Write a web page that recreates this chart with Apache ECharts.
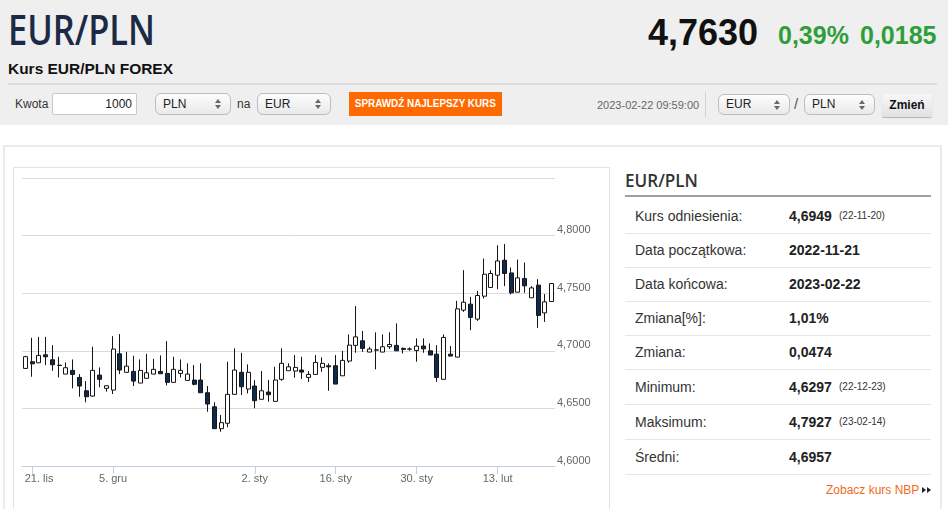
<!DOCTYPE html>
<html>
<head>
<meta charset="utf-8">
<script src="https://cdn.jsdelivr.net/npm/echarts@6/dist/echarts.min.js"></script>
<style>
  html,body{margin:0;padding:0;}
  body{width:948px;height:509px;overflow:hidden;position:relative;background:#fff;font-family:"Liberation Sans",Arial,sans-serif;color:#333;}
  .a{position:absolute;white-space:nowrap;}
  .band{left:0;top:0;width:948px;height:125px;background:#efefef;}
  .title{font-family:"Open Sans",sans-serif;font-weight:600;font-size:42px;line-height:42px;color:#1c2b45;transform-origin:left center;}
  .sub{font-weight:bold;font-size:15px;line-height:15px;color:#111;transform-origin:left center;}
  .big{font-weight:bold;font-size:36px;line-height:36px;color:#111;}
  .grn{font-weight:bold;font-size:25px;line-height:25px;color:#2e9e3a;}
  .lbl{font-size:12px;line-height:12px;color:#333;}
  .inp{background:#fff;border:1px solid #c9c9c9;border-radius:2px;box-sizing:border-box;font-size:12px;color:#222;text-align:right;padding-right:4px;}
  .sel{box-sizing:border-box;border:1px solid #bdbdbd;border-radius:6px;background:linear-gradient(#fdfdfd,#e9e9e9);font-size:12px;color:#222;padding-left:7px;}
  .sel .ar{position:absolute;right:9px;top:50%;width:6px;height:10px;margin-top:-5px;}
  .sel .ar:before{content:"";position:absolute;left:0;top:0;border-left:3px solid transparent;border-right:3px solid transparent;border-bottom:4px solid #666;}
  .sel .ar:after{content:"";position:absolute;left:0;bottom:0;border-left:3px solid transparent;border-right:3px solid transparent;border-top:4px solid #666;}
  .btn{background:#ff6a00;color:#fff;font-weight:bold;font-size:10px;text-align:center;}
  .zm{box-sizing:border-box;background:linear-gradient(#f7f7f7,#e1e1e1);border-radius:2px;box-shadow:0 1px 1px rgba(0,0,0,0.25);font-weight:bold;font-size:12px;color:#111;text-align:center;}
  .row{left:625px;width:306px;height:34px;line-height:34px;font-size:14px;color:#333;}
  .row .k{position:absolute;left:10px;}
  .row .v{position:absolute;left:164px;font-weight:bold;color:#222;}
  .row .d{position:absolute;left:214px;font-size:10px;color:#333;}
  .sep{left:625px;width:306px;height:1px;background:#e6e6e6;}
</style>
</head>
<body>
<div class="a band"></div>
<div class="a title" id="ttl" style="left:8px;top:8px;">EUR/PLN</div>
<div class="a sub" id="sub" style="left:8px;top:61px;">Kurs EUR/PLN FOREX</div>
<div class="a big" style="left:648px;top:15px;">4,7630</div>
<div class="a grn" style="left:778px;top:23px;">0,39%</div>
<div class="a grn" style="left:860px;top:23px;">0,0185</div>
<div class="a" style="left:8px;top:83px;width:929px;height:2px;background:#dcdcdc;"></div>

<div class="a lbl" style="left:15px;top:98px;">Kwota</div>
<div class="a inp" style="left:52px;top:93px;width:85px;height:22px;line-height:20px;">1000</div>
<div class="a sel" style="left:155px;top:93px;width:76px;height:22px;line-height:20px;">PLN<span class="ar"></span></div>
<div class="a lbl" style="left:237px;top:98px;">na</div>
<div class="a sel" style="left:257px;top:93px;width:74px;height:22px;line-height:20px;">EUR<span class="ar"></span></div>
<div class="a btn" style="left:349px;top:92px;width:153px;height:24px;line-height:24px;"><span id="btxt" style="display:inline-block;">SPRAWDŹ NAJLEPSZY KURS</span></div>

<div class="a" style="left:597px;top:100px;font-size:11px;line-height:11px;color:#666;">2023-02-22 09:59:00</div>
<div class="a" style="left:705px;top:92px;width:1px;height:25px;background:#d2d2d2;"></div>
<div class="a sel" style="left:718px;top:94px;width:72px;height:21px;line-height:19px;">EUR<span class="ar"></span></div>
<div class="a" style="left:794px;top:96px;font-size:15px;line-height:15px;color:#555;">/</div>
<div class="a sel" style="left:804px;top:94px;width:71px;height:21px;line-height:19px;">PLN<span class="ar"></span></div>
<div class="a zm" style="left:882px;top:94px;width:50px;height:23px;line-height:23px;">Zmień</div>

<div class="a" style="left:3px;top:145px;width:939px;height:400px;border:2px solid #ebebeb;box-sizing:border-box;"></div>
<div class="a" style="left:13px;top:167px;width:597px;height:360px;border:1px solid #e3e3e3;box-sizing:border-box;"></div>
<div class="a" id="chart" style="left:14px;top:168px;width:595px;height:341px;"></div>

<div class="a" id="th" style="left:625px;top:169px;font-family:'Open Sans',sans-serif;font-weight:600;font-size:18px;line-height:22px;color:#333;transform-origin:left center;">EUR/PLN</div>
<div class="a" style="left:625px;top:195px;width:306px;height:2px;background:#a0a0a0;"></div>
<div id="tbl"></div>
<div class="a" style="left:826px;top:484px;font-size:12px;line-height:12px;color:#f26a1b;">Zobacz kurs NBP</div>
<div class="a" style="left:922px;top:487px;width:0;height:0;border-top:3px solid transparent;border-bottom:3px solid transparent;border-left:4px solid #222;"></div>
<div class="a" style="left:927px;top:487px;width:0;height:0;border-top:3px solid transparent;border-bottom:3px solid transparent;border-left:4px solid #222;"></div>

<script>
// ---- chart data ----
const dates = [
 '2022-11-20','2022-11-21','2022-11-22','2022-11-23','2022-11-24','2022-11-25','2022-11-27','2022-11-28','2022-11-29','2022-11-30',
 '2022-12-01','2022-12-02','2022-12-04','2022-12-05','2022-12-06','2022-12-07','2022-12-08','2022-12-09','2022-12-11','2022-12-12',
 '2022-12-13','2022-12-14','2022-12-15','2022-12-16','2022-12-18','2022-12-19','2022-12-20','2022-12-21','2022-12-22','2022-12-23',
 '2022-12-27','2022-12-28','2022-12-29','2022-12-30','2023-01-02','2023-01-03','2023-01-04','2023-01-05','2023-01-06','2023-01-08',
 '2023-01-09','2023-01-10','2023-01-11','2023-01-12','2023-01-13','2023-01-15','2023-01-16','2023-01-17','2023-01-18','2023-01-19',
 '2023-01-20','2023-01-22','2023-01-23','2023-01-24','2023-01-25','2023-01-26','2023-01-27','2023-01-29','2023-01-30','2023-01-31',
 '2023-02-01','2023-02-02','2023-02-03','2023-02-05','2023-02-06','2023-02-07','2023-02-08','2023-02-09','2023-02-10','2023-02-12',
 '2023-02-13','2023-02-14','2023-02-15','2023-02-16','2023-02-17','2023-02-19','2023-02-20','2023-02-21','2023-02-22'
];
const opens = [
 4.6847,4.6905,4.6896,4.6965,4.6922,4.6875,4.6798,4.6830,4.6769,4.6653,
 4.6607,4.6789,4.6674,4.6659,4.6974,4.6813,4.6821,4.6720,4.6761,4.6798,
 4.6821,4.6804,4.6726,4.6804,4.6743,4.6746,4.6746,4.6636,4.6514,4.6324,
 4.6371,4.6622,4.6813,4.6668,4.6694,4.6579,4.6642,4.6561,4.6752,4.6827,
 4.6824,4.6833,4.6769,4.6795,4.6856,4.6870,4.6870,4.6783,4.6911,4.7047,
 4.7087,4.6989,4.7008,4.6989,4.7035,4.7047,4.7021,4.7014,4.7003,4.7041,
 4.7000,4.6971,4.6752,4.6971,4.6945,4.7353,4.7405,4.7275,4.7474,4.7550,
 4.7656,4.7786,4.7676,4.7509,4.7628,4.7460,4.7570,4.7329,4.7428
];
const closes = [
 4.6949,4.6887,4.6960,4.6948,4.6879,4.6873,4.6853,4.6795,4.6694,4.6601,
 4.6830,4.6752,4.6697,4.7015,4.6833,4.6867,4.6737,4.6830,4.6809,4.6839,
 4.6801,4.6726,4.6839,4.6830,4.6798,4.6709,4.6636,4.6538,4.6324,4.6376,
 4.6622,4.6833,4.6688,4.6813,4.6567,4.6653,4.6619,4.6746,4.6891,4.6861,
 4.6856,4.6815,4.6795,4.6899,4.6891,4.6861,4.6711,4.6917,4.7049,4.7121,
 4.7021,4.7015,4.7006,4.7035,4.7055,4.7000,4.7012,4.7016,4.7041,4.7017,
 4.6963,4.6769,4.7116,4.6954,4.7364,4.7422,4.7290,4.7480,4.7665,4.7671,
 4.7780,4.7671,4.7503,4.7633,4.7564,4.7546,4.7307,4.7425,4.7584
];
const lows = [
 4.6845,4.6775,4.6896,4.6876,4.6827,4.6769,4.6798,4.6674,4.6601,4.6553,
 4.6601,4.6683,4.6645,4.6625,4.6798,4.6813,4.6694,4.6720,4.6761,4.6798,
 4.6798,4.6700,4.6726,4.6769,4.6743,4.6700,4.6636,4.6471,4.6324,4.6297,
 4.6336,4.6622,4.6616,4.6630,4.6501,4.6579,4.6558,4.6558,4.6740,4.6827,
 4.6766,4.6755,4.6729,4.6795,4.6818,4.6653,4.6711,4.6783,4.6896,4.6983,
 4.6991,4.6989,4.6839,4.6989,4.7015,4.7000,4.6977,4.7000,4.6905,4.6983,
 4.6963,4.6731,4.6752,4.6954,4.6945,4.7338,4.7179,4.7260,4.7454,4.7550,
 4.7535,4.7561,4.7489,4.7509,4.7503,4.7460,4.7199,4.7251,4.7428
];
const highs = [
 4.6957,4.7113,4.7121,4.7121,4.7049,4.6948,4.6899,4.6925,4.6798,4.6737,
 4.7035,4.6856,4.6697,4.7127,4.7145,4.6991,4.6957,4.6925,4.6974,4.6930,
 4.6960,4.7084,4.6948,4.6925,4.6891,4.6876,4.6891,4.6694,4.6553,4.6443,
 4.6905,4.7021,4.6983,4.6882,4.6745,4.6824,4.6746,4.6861,4.7021,4.6891,
 4.6963,4.6948,4.6824,4.6963,4.6943,4.6891,4.6963,4.7000,4.7142,4.7388,
 4.7173,4.7035,4.7160,4.7142,4.7160,4.7238,4.7029,4.7029,4.7108,4.7108,
 4.7064,4.7049,4.7142,4.7041,4.7434,4.7700,4.7468,4.7520,4.7801,4.7700,
 4.7916,4.7927,4.7723,4.7792,4.7766,4.7561,4.7622,4.7492,4.7584
];
const xTickDates  = ['2022-11-21','2022-12-05','2023-01-02','2023-01-16','2023-01-30','2023-02-13'];
const xTickLabels = ['21. lis','5. gru','2. sty','16. sty','30. sty','13. lut'];
const yMin = 4.60, yMax = 4.85, yStep = 0.05;

// ---- table data ----
const tblLabels = ['Kurs odniesienia:','Data początkowa:','Data końcowa:','Zmiana[%]:','Zmiana:','Minimum:','Maksimum:','Średni:'];
const tblValues = ['4,6949','2022-11-21','2023-02-22','1,01%','0,0474','4,6297','4,7927','4,6957'];
const tblDates  = ['(22-11-20)','','','','','(22-12-23)','(23-02-14)',''];

// build table
(function(){
  const host = document.getElementById('tbl');
  const centers = [215.7,249.5,283.5,318,352,386.5,421.5,456.5];
  const seps = [232.5,266.5,301,335,368.5,403.5,439,473.5];
  let h = '';
  tblLabels.forEach((k,i)=>{
    h += '<div class="a row" style="top:'+(centers[i]-17)+'px"><span class="k">'+k+'</span><span class="v">'+tblValues[i]+'</span>'+
         (tblDates[i]?'<span class="d">'+tblDates[i]+'</span>':'')+'</div>';
    h += '<div class="a sep" style="top:'+Math.round(seps[i])+'px"></div>';
  });
  host.innerHTML = h;
})();

function fit(id, w){
  const el = document.getElementById(id);
  const cw = el.getBoundingClientRect().width;
  el.style.transform = 'scaleX(' + (w/cw) + ')';
  el.style.transformOrigin = 'left center';
}
fit('ttl', 147);
fit('sub', 165);
fit('th', 73);
(function(){
  const el = document.getElementById('btxt');
  const cw = el.getBoundingClientRect().width;
  el.style.transform = 'scaleX(' + (141/cw) + ')';
  el.style.transformOrigin = 'center center';
})();

// ---- chart ----
const tickIdx = xTickDates.map(d => dates.indexOf(d));
const candleData = dates.map((d,i)=>[opens[i], closes[i], lows[i], highs[i]]);

const chart = echarts.init(document.getElementById('chart'));
chart.setOption({
  animation:false,
  backgroundColor:'#fff',
  grid:{left:8, right:54, top:10, height:288},
  xAxis:{
    type:'category', data:dates, boundaryGap:true,
    axisLine:{show:true, lineStyle:{color:'#c0d0e0', width:1}},
    axisTick:{show:true, alignWithLabel:true, length:8, interval:(i)=>tickIdx.indexOf(i)>=0, lineStyle:{color:'#c0d0e0'}},
    axisLabel:{
      interval:(i)=>tickIdx.indexOf(i)>=0,
      color:'#666', fontSize:11, margin:7, fontFamily:'Liberation Sans, Arial, sans-serif',
      formatter:(v,i)=>{
        const k = tickIdx.indexOf(i);
        if (k<0) return '';
        return k===0 ? '{f|'+xTickLabels[k]+'}' : xTickLabels[k];
      },
      rich:{f:{color:'#666', fontSize:11, padding:[0,0,0,14], fontFamily:'Liberation Sans, Arial, sans-serif'}}
    },
    splitLine:{show:false}
  },
  yAxis:{
    type:'value', position:'right', min:yMin, max:yMax, interval:yStep, scale:true,
    axisLine:{show:false}, axisTick:{show:false},
    splitLine:{show:true, lineStyle:{color:'#dadada', width:1}},
    axisLabel:{
      color:'#666', fontSize:11, margin:2, verticalAlign:'bottom', fontFamily:'Liberation Sans, Arial, sans-serif',
      formatter:(v)=> v > yMax - yStep/2 ? '' : v.toFixed(4).replace('.', ',')
    }
  },
  series:[{
    type:'candlestick',
    data:candleData,
    barWidth:4.5,
    itemStyle:{color:'#ffffff', color0:'#0e2a4e', borderColor:'#151515', borderColor0:'#151515', borderWidth:1}
  }]
});
</script>
</body>
</html>
